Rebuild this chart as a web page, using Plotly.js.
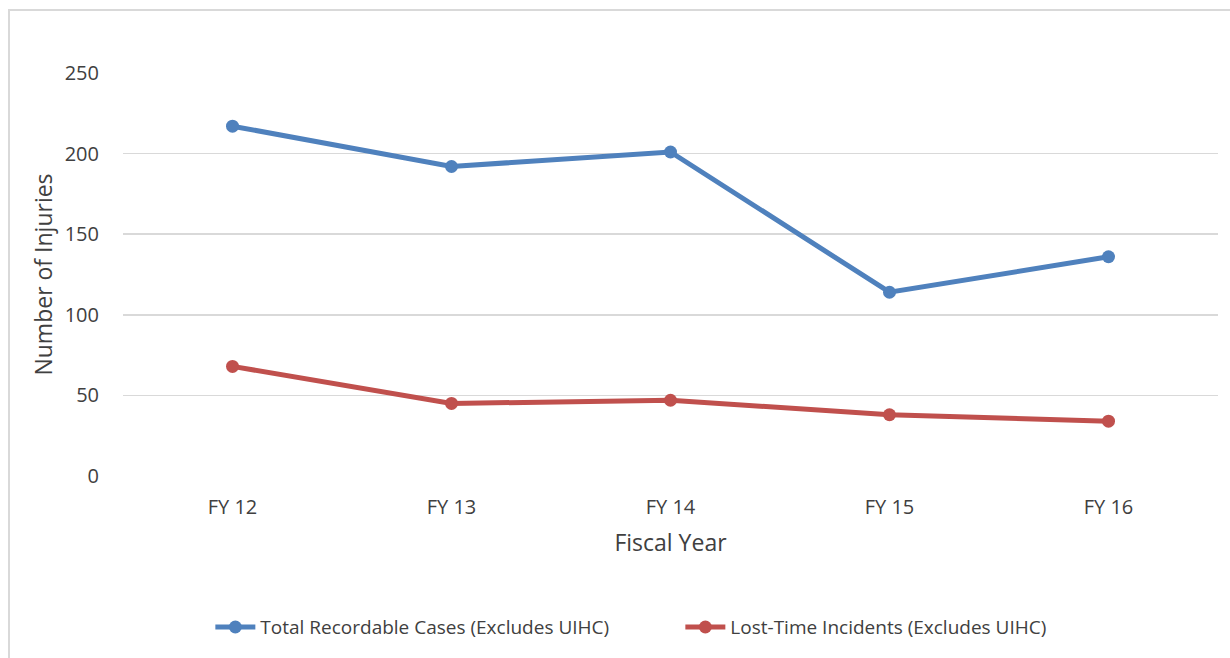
<!DOCTYPE html>
<html>
<head>
<meta charset="utf-8">
<script src="https://cdn.plot.ly/plotly-3.0.1.min.js"></script>
<style>
  html, body { margin: 0; padding: 0; background: #fff; }
  #wrap { position: relative; width: 1230px; height: 658px; overflow: hidden; }
  #chart { position: absolute; left: 0; top: 0; width: 1230px; height: 658px; }
  #frame { position: absolute; left: 8px; top: 9px; width: 1240px; height: 670px;
           border: 2px solid #D9D9D9; box-sizing: border-box; pointer-events: none; }
</style>
</head>
<body>
<div id="wrap">
  <div id="chart"></div>
  <div id="frame"></div>
</div>
<script>
const categories = ["FY 12", "FY 13", "FY 14", "FY 15", "FY 16"];
const totalRecordable = [217, 192, 201, 114, 136];
const lostTime = [68, 45, 47, 38, 34];
const seriesNames = ["Total Recordable Cases (Excludes UIHC)", "Lost-Time Incidents (Excludes UIHC)"];
const yTicks = [0, 50, 100, 150, 200, 250];

const FONT = "'Open Sans', 'Noto Sans', sans-serif";
const TXT = "#404040";

const traces = [
  {
    x: categories, y: totalRecordable, name: seriesNames[0],
    type: "scatter", mode: "lines+markers",
    line: { color: "#4F81BD", width: 5 },
    marker: { color: "#4F81BD", size: 13 }
  },
  {
    x: categories, y: lostTime, name: seriesNames[1],
    type: "scatter", mode: "lines+markers",
    line: { color: "#C0504D", width: 5 },
    marker: { color: "#C0504D", size: 13 }
  }
];

const layout = {
  width: 1230, height: 658,
  margin: { l: 123, r: 12, t: 73, b: 182 },
  paper_bgcolor: "#fff", plot_bgcolor: "#fff",
  font: { family: FONT, color: TXT, size: 20 },
  showlegend: true,
  legend: {
    orientation: "h", x: 0.509, xanchor: "center", y: -0.375, yanchor: "middle",
    font: { family: FONT, size: 19, color: TXT },
    itemwidth: 40, entrywidth: 415, entrywidthmode: "pixels"
  },
  xaxis: {
    type: "category", range: [-0.5, 4.5],
    showgrid: false, zeroline: false, showline: false,
    ticks: "outside", ticklen: 13, tickcolor: "rgba(0,0,0,0)",
    tickfont: { family: FONT, size: 20, color: TXT },
    title: { text: "Fiscal Year", font: { family: FONT, size: 23, color: TXT }, standoff: 15 }
  },
  yaxis: {
    range: [0, 250], tickvals: yTicks, ticktext: yTicks.map(String),
    showgrid: true, gridcolor: "#D9D9D9", gridwidth: 1.5,
    zeroline: false, showline: false,
    ticks: "outside", ticklen: 19, tickcolor: "rgba(0,0,0,0)",
    tickfont: { family: FONT, size: 20, color: TXT },
    title: { text: "Number of Injuries", font: { family: FONT, size: 23, color: TXT }, standoff: 5 }
  }
};

Plotly.newPlot("chart", traces, layout, { displayModeBar: false, staticPlot: true });
</script>
</body>
</html>
